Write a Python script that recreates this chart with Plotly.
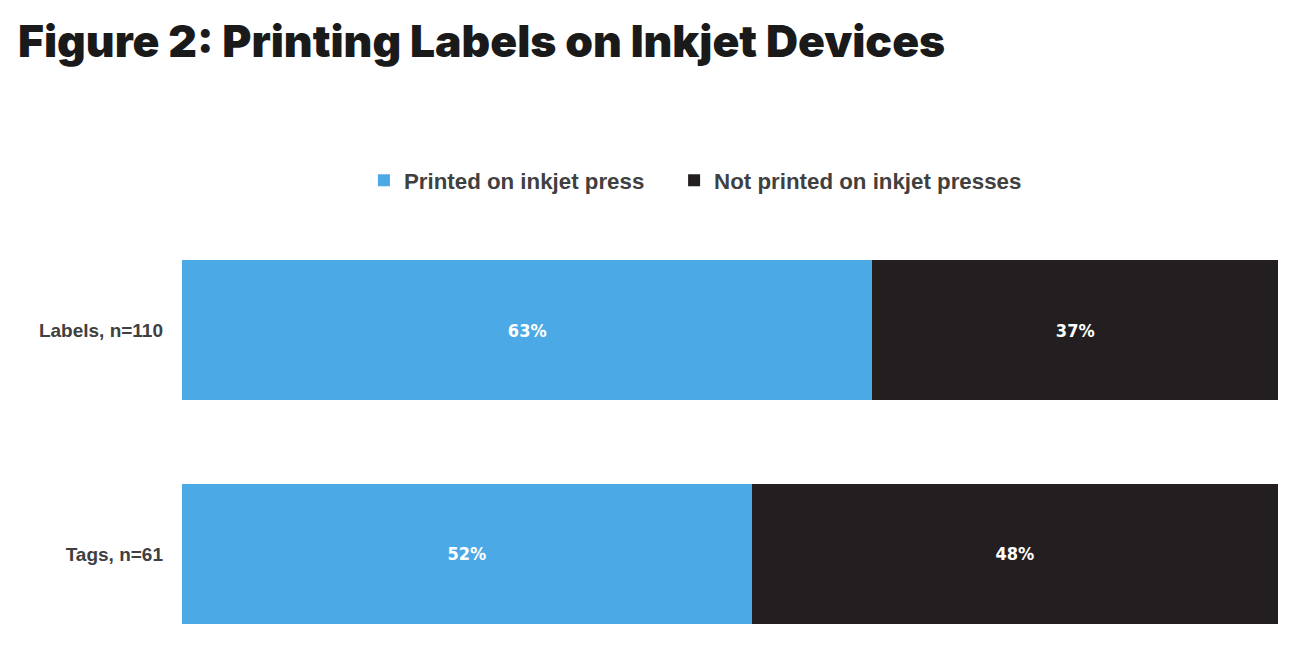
import plotly.graph_objects as go

categories = ["Tags, n=61", "Labels, n=110"]
series_names = ["Printed on inkjet press", "Not printed on inkjet presses"]
printed = [52, 63]
not_printed = [48, 37]
colors = ["#4BAAE5", "#231F20"]
legend_refs = ["legend", "legend2"]

fig = go.Figure()
for name, vals, col, lg in zip(series_names, [printed, not_printed], colors, legend_refs):
    fig.add_trace(go.Bar(
        y=categories, x=vals, name=name, orientation="h",
        marker=dict(color=col, line=dict(width=0)),
        width=0.625,
        text=[f"{v}%" for v in vals], textposition="inside",
        insidetextanchor="middle",
        textfont=dict(family="Liberation Sans Narrow, DejaVu Sans Condensed, Liberation Sans, Arial",
                      size=18, color="white", weight="bold"),
        hoverinfo="skip",
        legend=lg,
    ))

legend_font = dict(family="Liberation Sans, Arial", size=22.3, color="#404040", weight="bold")

# page body adds an 8px offset; the figure is sized to fill the rest of the window
fig.update_layout(
    barmode="stack",
    width=1300, height=653,
    margin=dict(l=174, r=30, t=150, b=21, autoexpand=False),
    plot_bgcolor="white", paper_bgcolor="white",
    title=dict(text="Figure 2: Printing Labels on Inkjet Devices",
               x=0.0077, xanchor="left", y=0.948, yanchor="middle", yref="container",
               font=dict(family="Inter, Roboto, sans-serif", size=44.4, color="#1a1a1a", weight=900)),
    legend=dict(orientation="h", x=0.166, xanchor="left", y=0.954, yref="paper",
                yanchor="middle", font=legend_font, itemsizing="constant",
                bgcolor="rgba(0,0,0,0)"),
    legend2=dict(orientation="h", x=0.449, xanchor="left", y=0.954, yref="paper",
                 yanchor="middle", font=legend_font, itemsizing="constant",
                 bgcolor="rgba(0,0,0,0)"),
    showlegend=True,
    uniformtext=dict(mode="show", minsize=10),
)
fig.update_xaxes(range=[0, 100], visible=False, fixedrange=True)
fig.update_yaxes(range=[-0.384, 1.768], showgrid=False, zeroline=False, ticks="", ticklen=0,
                 tickfont=dict(family="Liberation Sans, Arial", size=19, color="#404040", weight="bold"),
                 ticklabelstandoff=18, fixedrange=True)

fig.write_html("out.html")
